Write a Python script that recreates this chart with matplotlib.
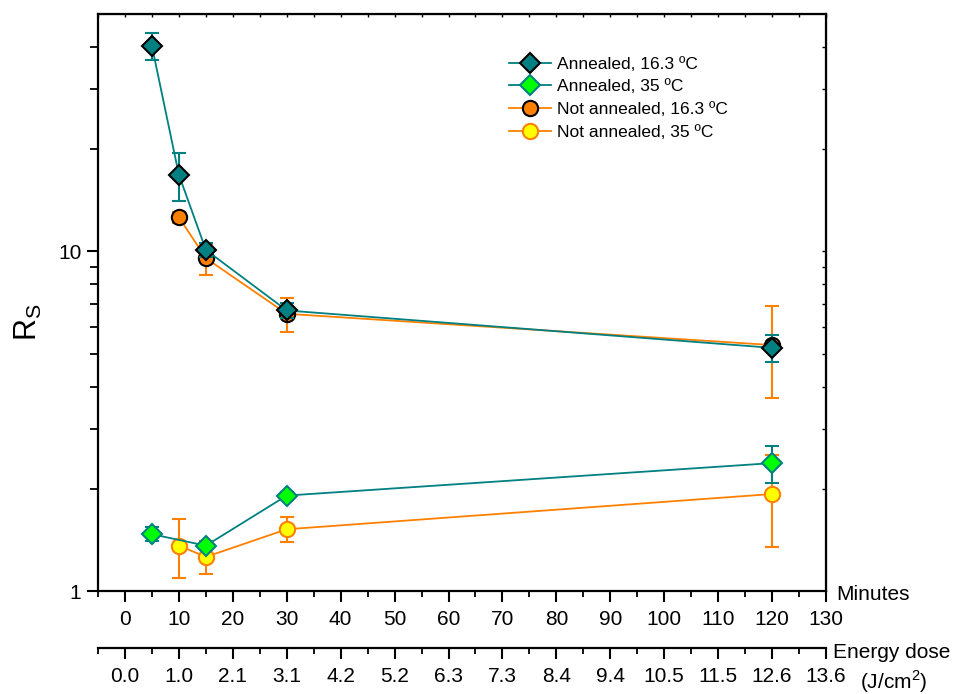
import matplotlib
matplotlib.use('Agg')
import matplotlib.pyplot as plt
from matplotlib.lines import Line2D
from matplotlib.ticker import FixedLocator, MultipleLocator, NullFormatter

plt.rcParams['font.family'] = ['Liberation Sans', 'DejaVu Sans']

# data (minutes, Rs, error)
x_a16 = [5, 10, 15, 30, 120]
y_a16 = [40.2, 16.8, 10.1, 6.7, 5.2]
e_a16 = [3.7, 2.7, 0.5, 0.35, 0.47]

x_a35 = [5, 15, 30, 120]
y_a35 = [1.47, 1.36, 1.91, 2.38]
e_a35 = [0.07, 0.03, 0.05, 0.3]

x_n16 = [10, 15, 30, 120]
y_n16 = [12.6, 9.55, 6.55, 5.3]
e_n16 = [0.5, 1.0, 0.75, 1.6]

x_n35 = [10, 15, 30, 120]
y_n35 = [1.36, 1.26, 1.52, 1.93]
e_n35 = [0.27, 0.14, 0.13, 0.58]

minute_ticks = [0, 10, 20, 30, 40, 50, 60, 70, 80, 90, 100, 110, 120, 130]
dose_labels = ['0.0', '1.0', '2.1', '3.1', '4.2', '5.2', '6.3', '7.3', '8.4',
               '9.4', '10.5', '11.5', '12.6', '13.6']
labels = ['Annealed, 16.3 ºC', 'Annealed, 35 ºC',
          'Not annealed, 16.3 ºC', 'Not annealed, 35 ºC']

teal = '#008080'
orange = '#ff8000'
styles = [
    dict(color=teal, marker='D', ms=10, mfc=teal, mec='black'),
    dict(color=teal, marker='D', ms=10, mfc='#00ff00', mec=teal),
    dict(color=orange, marker='o', ms=11, mfc=orange, mec='black'),
    dict(color=orange, marker='o', ms=11, mfc='#ffff00', mec=orange),
]
series = [(x_a16, y_a16, e_a16), (x_a35, y_a35, e_a35),
          (x_n16, y_n16, e_n16), (x_n35, y_n35, e_n35)]

fig = plt.figure(figsize=(9.64, 6.94), dpi=100)
ax = fig.add_axes([0.1017, 0.1484, 0.7551, 0.8314])

for (xs, ys, es), st, z in zip(series, styles, [4, 4, 3, 3]):
    ax.errorbar(xs, ys, yerr=es, lw=1.3, mew=1.5, capsize=5, elinewidth=1.5,
                capthick=1.5, zorder=z, **st)

ax.set_yscale('log')
ax.set_ylim(1, 50)
ax.set_xlim(-5, 130)

for s in ax.spines.values():
    s.set_linewidth(1.6)

ax.xaxis.set_major_locator(FixedLocator(minute_ticks))
ax.xaxis.set_minor_locator(MultipleLocator(5))
ax.set_xticklabels([str(t) for t in minute_ticks])
ax.set_yticks([1, 10])
ax.set_yticklabels(['1', '10'])
ax.yaxis.set_minor_locator(FixedLocator([2, 3, 4, 5, 6, 7, 8, 9, 20, 30, 40]))
ax.yaxis.set_minor_formatter(NullFormatter())

ax.tick_params(axis='x', which='major', direction='out', length=8, width=1.5,
               labelsize=15, pad=6)
ax.tick_params(axis='x', which='minor', direction='out', length=4.5, width=1.3)
ax.tick_params(axis='y', which='major', direction='out', length=8, width=1.5,
               labelsize=15, pad=4)
ax.tick_params(axis='y', which='minor', direction='out', length=6, width=1.3)

# small inward ticks on top and right
top = ax.secondary_xaxis('top')
top.xaxis.set_major_locator(MultipleLocator(5))
top.tick_params(direction='in', length=2.5, width=1.0, labeltop=False)
right = ax.secondary_yaxis('right')
right.yaxis.set_major_locator(FixedLocator([2, 3, 4, 5, 6, 7, 8, 9, 10, 20, 30, 40]))
right.yaxis.set_minor_locator(FixedLocator([]))
right.tick_params(direction='in', length=3, width=1.0, labelright=False)

fig.text(28 / 964, 1 - 322 / 694, 'R$_\\mathregular{S}$', fontsize=22,
         rotation=90, ha='center', va='center')

# secondary energy-dose axis below
ax2 = ax.twiny()
ax2.set_xlim(ax.get_xlim())
for k in ['top', 'left', 'right']:
    ax2.spines[k].set_visible(False)
ax2.spines['bottom'].set_visible(True)
ax2.spines['bottom'].set_position(('outward', 41))
ax2.spines['bottom'].set_linewidth(1.6)
ax2.xaxis.set_ticks_position('bottom')
ax2.xaxis.set_label_position('bottom')
ax2.xaxis.set_major_locator(FixedLocator(minute_ticks))
ax2.xaxis.set_minor_locator(MultipleLocator(5))
ax2.set_xticklabels(dose_labels)
ax2.tick_params(axis='x', which='major', direction='out', length=8, width=1.5,
                labelsize=15, pad=6)
ax2.tick_params(axis='x', which='minor', direction='out', length=4.5, width=1.3)

fig.text(836 / 964, 1 - 594 / 694, 'Minutes', fontsize=15, va='center', ha='left')
fig.text(833 / 964, 1 - 652 / 694, 'Energy dose', fontsize=15, va='center', ha='left')
fig.text(860 / 964, 1 - 682 / 694, '(J/cm$^\\mathregular{2}$)', fontsize=15,
         va='center', ha='left')

handles = [Line2D([], [], lw=1.3, mew=1.5, **st) for st in styles]
ax.legend(handles, labels, loc='upper left', bbox_to_anchor=(0.565, 0.926),
          frameon=False, fontsize=12.5, handlelength=2.4, labelspacing=0.43,
          handletextpad=0.35, borderpad=0, borderaxespad=0)

fig.savefig('out.png', dpi=100)
